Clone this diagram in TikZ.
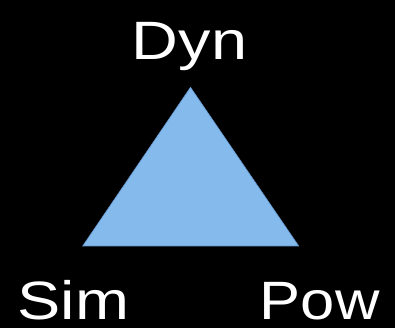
\documentclass[tikz,border=0pt]{standalone}
\usepackage{fontspec}
\setmainfont{Liberation Sans}
\definecolor{trifill}{RGB}{133,186,236}
\definecolor{triline}{RGB}{100,150,205}
\tikzset{
  lbl/.style={text=white, anchor=base, inner sep=0pt, text depth=0pt, xscale=1.2, font=\fontsize{54}{56}\selectfont},
  tri/.style={fill=trifill, draw=triline, line width=0.6pt, line join=miter}
}
\begin{document}
\begin{tikzpicture}[x=1pt,y=1pt]
  \fill[black] (0,0) rectangle (395,328);
  \useasboundingbox (0,0) rectangle (395,328);
  \coordinate (top) at (190.5,240.7);
  \coordinate (bl) at (82.7,82);
  \coordinate (br) at (298.7,82);
  \draw[tri] (top) -- (bl) -- (br) -- cycle;
  \node[lbl] (dyn) at (189.5,268.5) {Dyn};
  \node[lbl] (sim) at (73.5,8) {Sim};
  \node[lbl, xscale=0.95] (pow) at (319.8,8) {Pow};
\end{tikzpicture}
\end{document}
